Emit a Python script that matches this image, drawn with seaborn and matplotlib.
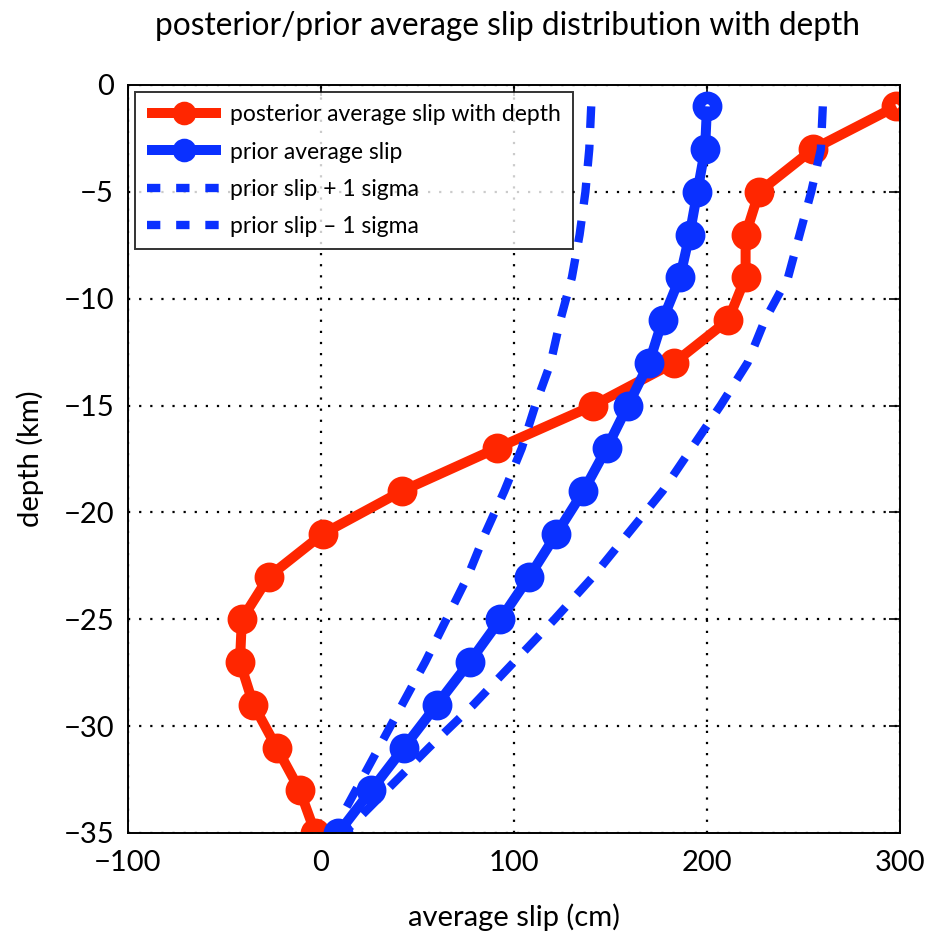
import numpy as np
import seaborn as sns
import matplotlib.pyplot as plt

# depths (km) of the slip layers
depth = [-1, -3, -5, -7, -9, -11, -13, -15, -17, -19, -21, -23, -25, -27, -29, -31, -33, -35]

# posterior average slip (cm)
post_slip = [298, 255, 227, 220, 220, 211, 183, 141, 91, 42, 1, -27, -41, -42, -35, -23, -11, -3]

# prior average slip (cm)
prior_slip = [200, 199, 195, 191, 186, 177, 170, 159, 148, 136, 122, 108, 93, 77, 60, 43, 26, 9]

# prior +/- 1 sigma (cm)
prior_plus = [140, 139, 137, 134, 130, 124, 119, 111, 104, 95, 85, 76, 65, 54, 42, 30, 18, 6]
prior_minus = [260, 259, 254, 248, 242, 230, 221, 207, 192, 177, 159, 141, 121, 100, 79, 56, 34, 12]

red = '#ff2600'
blue = '#0a30ff'

sns.set_style('white')
plt.rcParams['font.family'] = ['Lato', 'DejaVu Sans']
plt.rcParams['axes.unicode_minus'] = True
plt.rcParams['text.color'] = 'black'
plt.rcParams['axes.labelcolor'] = 'black'

fig = plt.figure(figsize=(9.31, 9.39), dpi=100)
ax = fig.add_axes([0.1375, 0.1129, 0.8292, 0.7966])

sns.lineplot(x=post_slip, y=depth, sort=False, estimator=None, ax=ax, color=red,
             linewidth=7.2, marker='o', label='posterior average slip with depth')
sns.lineplot(x=prior_slip, y=depth, sort=False, estimator=None, ax=ax, color=blue,
             linewidth=7.2, marker='o', label='prior average slip')
sns.lineplot(x=prior_plus, y=depth, sort=False, estimator=None, ax=ax, color=blue,
             linewidth=6, dashes=False, label='prior slip + 1 sigma')
sns.lineplot(x=prior_minus, y=depth, sort=False, estimator=None, ax=ax, color=blue,
             linewidth=6, dashes=False, label='prior slip \u2013 1 sigma')

lines = ax.get_lines()
for ln, c in zip(lines[:2], [red, blue]):
    ln.set_markersize(12.5)
    ln.set_markeredgewidth(9)
    ln.set_markeredgecolor(c)
    ln.set_markerfacecolor('none')
    ln.set_solid_capstyle('butt')
for ln in lines[2:4]:
    ln.set_dashes((2.6, 2.0))
    ln.set_dash_capstyle('butt')

ax.set_xlim(-100, 300)
ax.set_ylim(-35, 0)
ax.set_xticks([-100, 0, 100, 200, 300])
ax.set_yticks([-35, -30, -25, -20, -15, -10, -5, 0])
ax.grid(True, color='black', linestyle=(0, (1, 4)), linewidth=1.6)
ax.tick_params(direction='in', length=8, width=1.2, top=True, right=True,
               labelsize=21, colors='black')
ax.tick_params(axis='x', pad=12)
ax.tick_params(axis='y', pad=10)
for s in ax.spines.values():
    s.set_color('black')
    s.set_linewidth(1.4)

ax.set_xlabel('average slip (cm)', fontsize=21, labelpad=20)
ax.set_ylabel('depth (km)', fontsize=21, labelpad=14)
fig.text(0.545, 0.972, 'posterior/prior average slip distribution with depth',
         ha='center', va='center', fontsize=22.8)

leg = ax.legend(loc='upper left', fontsize=16.5, handlelength=3.2, labelspacing=0.7,
                borderaxespad=0.3, frameon=True, fancybox=False, borderpad=0.55,
                handletextpad=0.4)
leg.get_frame().set_edgecolor('black')
leg.get_frame().set_linewidth(1.4)
for h in leg.get_lines()[:2]:
    h.set_markevery([1])
    h.set_markersize(14)
    h.set_markeredgewidth(3)
    h.set_markerfacecolor(h.get_color())
for h in leg.get_lines()[2:4]:
    h.set_dashes((1.6, 1.9))

fig.savefig('out.png', dpi=100)
